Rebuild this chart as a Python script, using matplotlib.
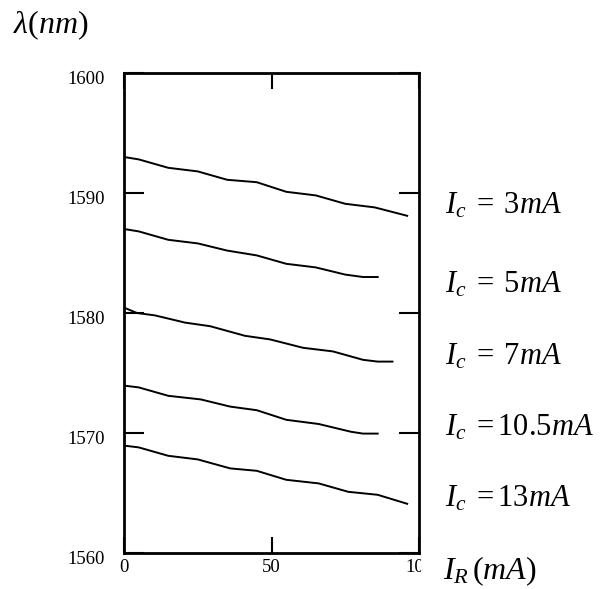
import matplotlib
matplotlib.use('Agg')
import matplotlib.pyplot as plt
from matplotlib.transforms import ScaledTranslation, Bbox, TransformedBbox

plt.rcParams['font.family'] = 'Liberation Serif'
plt.rcParams['mathtext.fontset'] = 'custom'
plt.rcParams['mathtext.rm'] = 'Liberation Serif'
plt.rcParams['mathtext.it'] = 'Liberation Serif:italic'

# wavelength (nm) against reflector current I_R (mA), one curve per I_c
ir_3 = [0, 5, 15, 25, 35, 45, 55, 65, 75, 85, 96]
lam_3 = [1593.0, 1592.8, 1592.1, 1591.8, 1591.1, 1590.9, 1590.1, 1589.8, 1589.1, 1588.8, 1588.1]

ir_5 = [0, 5, 15, 25, 35, 45, 55, 65, 75, 81, 86]
lam_5 = [1587.0, 1586.8, 1586.1, 1585.8, 1585.2, 1584.8, 1584.1, 1583.8, 1583.2, 1583.0, 1583.0]

ir_7 = [0, 4.4, 10.5, 20.7, 29.2, 41, 49.5, 60.7, 70.8, 81, 86, 91]
lam_7 = [1580.45, 1580.0, 1579.8, 1579.2, 1578.9, 1578.1, 1577.8, 1577.1, 1576.8, 1576.1, 1575.95, 1575.95]

ir_105 = [0, 5, 15, 26, 36, 45, 55, 66, 77, 81, 86]
lam_105 = [1573.95, 1573.8, 1573.1, 1572.8, 1572.2, 1571.9, 1571.1, 1570.75, 1570.1, 1569.95, 1569.95]

ir_13 = [0, 5, 15, 25, 36, 45, 55, 66, 76, 86, 96]
lam_13 = [1568.95, 1568.8, 1568.1, 1567.8, 1567.05, 1566.85, 1566.1, 1565.8, 1565.1, 1564.85, 1564.1]

curve_labels = [r'$I_c\;=\;3mA$', r'$I_c\;=\;5mA$', r'$I_c\;=\;7mA$',
                r'$I_c\;=10.5mA$', r'$I_c\;=13mA$']
label_y = [1588.3, 1581.7, 1575.7, 1569.75, 1563.9]

x_ticks = [0, 50, 100]
y_ticks = [1560, 1570, 1580, 1590, 1600]

fig = plt.figure(figsize=(6.02, 5.89), dpi=100)
ax = fig.add_axes([124/602, 36/589, 295/602, 480/589])

for xs, ys in [(ir_3, lam_3), (ir_5, lam_5), (ir_7, lam_7), (ir_105, lam_105), (ir_13, lam_13)]:
    ax.plot(xs, ys, color='black', lw=1.4)

ax.set_xlim(0, 100)
ax.set_ylim(1560, 1600)
ax.set_xticks(x_ticks)
ax.set_yticks(y_ticks)
ax.set_xticklabels([str(t) for t in x_ticks])
ax.set_yticklabels([str(t) for t in y_ticks])

for sp in ax.spines.values():
    sp.set_linewidth(2.0)

ax.tick_params(axis='y', which='both', direction='in', length=14.4, width=1.5,
               left=True, right=True, labelsize=13.5, pad=14)
ax.tick_params(axis='x', which='both', direction='in', length=11.5, width=1.5,
               bottom=True, top=True, labelsize=13.5, pad=4)

# shift the y labels a little below their ticks
off = ScaledTranslation(0, -5/100, fig.dpi_scale_trans)
for lab in ax.get_yticklabels():
    lab.set_transform(lab.get_transform() + off)

# the last x label runs past the frame edge and gets cut
clip = TransformedBbox(Bbox.from_extents(0, 0, 421/602, 1), fig.transFigure)
xl = ax.get_xticklabels()
xl[-1].set_clip_box(clip)
xl[-1].set_clip_on(True)

for txt, yy in zip(curve_labels, label_y):
    ax.text(108.8, yy, txt, fontsize=22, va='baseline', ha='left', clip_on=False)

ax.text(108.2, 1557.8, r'$I_R\,(mA)$', fontsize=23, va='baseline', ha='left', clip_on=False)
fig.text(13/602, (589-33)/589, r'$\lambda(nm)$', fontsize=23, va='baseline', ha='left')

fig.savefig('out.png', dpi=100)
